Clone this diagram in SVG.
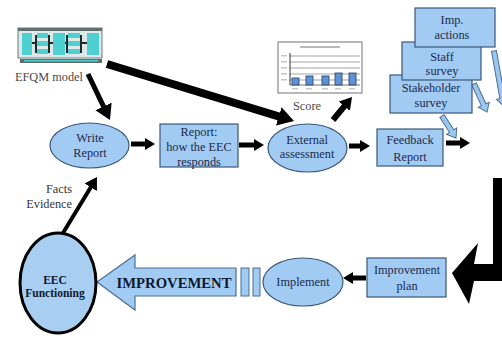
<svg xmlns="http://www.w3.org/2000/svg" width="502" height="338" viewBox="0 0 502 338" font-family="'Liberation Serif', 'Times New Roman', serif">
  <style>
    .bx { fill:#a1cbf3; stroke:#3b5878; stroke-width:1.2; }
    text { font-family:'Liberation Serif', 'Times New Roman', serif; }
    .t { font-size:12.3px; fill:#1c2a4a; text-anchor:middle; }
    .g { fill:#4a4a4a; }
    .k { stroke:#000; fill:none; stroke-linecap:butt; }
    .ba { fill:#9cc8f0; stroke:#4b6f96; stroke-width:1; }
    .bold { font-weight:bold; fill:#10182e; }
    .big { font-size:14.7px; }
    .sm { font-size:11.5px; }
    .lbl { text-anchor:end; fill:#333; }
  </style>
  <defs>
    <marker id="ah" viewBox="0 0 10 12" refX="2" refY="6" markerWidth="2" markerHeight="2.4" orient="auto" markerUnits="strokeWidth">
      <path d="M0,0 L10,6 L0,12 Z" fill="#000"/>
    </marker>
    <marker id="ahL" viewBox="0 0 10 12" refX="2" refY="6" markerWidth="3" markerHeight="3.6" orient="auto" markerUnits="strokeWidth">
      <path d="M0,0 L10,6 L0,12 Z" fill="#000"/>
    </marker>
  </defs>
  <rect width="502" height="338" fill="#fff"/>

  <!-- EFQM model picture -->
  <g id="efqm">
    <rect x="18" y="28" width="84" height="30" fill="#dfe8e8" stroke="#6d7b7b" stroke-width="1"/>
    <rect x="18" y="28" width="84" height="3" fill="#5f6d6d"/>
    <rect x="22" y="33" width="10" height="22" fill="#4fd0d0"/>
    <rect x="37" y="33" width="11" height="5" fill="#4fd0d0"/>
    <rect x="37" y="41" width="11" height="5" fill="#4fd0d0"/>
    <rect x="37" y="49" width="11" height="5" fill="#4fd0d0"/>
    <rect x="53" y="33" width="12" height="22" fill="#4fd0d0"/>
    <rect x="68" y="33" width="12" height="5" fill="#4fd0d0"/>
    <rect x="68" y="41" width="12" height="5" fill="#4fd0d0"/>
    <rect x="68" y="49" width="12" height="5" fill="#4fd0d0"/>
    <rect x="87" y="33" width="12" height="22" fill="#4fd0d0"/>
    <g fill="#1e2a2a">
      <rect x="32" y="42" width="5" height="2"/>
      <rect x="48" y="42" width="5" height="2"/>
      <rect x="65" y="42" width="3" height="2"/>
      <rect x="80" y="42" width="7" height="2"/>
      <rect x="35" y="35" width="2" height="18"/>
      <rect x="48" y="35" width="2" height="18"/>
      <rect x="66" y="35" width="2" height="18"/>
      <rect x="80" y="35" width="2" height="18"/>
    </g>
    <rect x="20" y="59" width="82" height="4" fill="#5f6d6d"/>
    <rect x="24" y="60" width="74" height="1.5" fill="#4fd0d0"/>
    <text class="t g" x="49" y="81">EFQM model</text>
  </g>

  <!-- Score chart -->
  <g id="score">
    <rect x="278" y="42" width="84" height="51" fill="#fff" stroke="#8a8a8a" stroke-width="1.2"/>
    <rect x="300" y="46" width="40" height="2" fill="#b8b8b8"/>
    <g stroke="#9a9a9a" stroke-width="0.9">
      <line x1="289" y1="56" x2="360" y2="56"/>
      <line x1="289" y1="62" x2="360" y2="62"/>
      <line x1="289" y1="68" x2="360" y2="68"/>
      <line x1="289" y1="74" x2="360" y2="74"/>
      <line x1="289" y1="80" x2="360" y2="80"/>
    </g>
    <line x1="290" y1="53" x2="290" y2="85" stroke="#555" stroke-width="1.2"/>
    <line x1="290" y1="85" x2="360" y2="85" stroke="#777" stroke-width="1"/>
    <g fill="#c8c8c8">
      <rect x="281" y="55" width="6" height="1.5"/>
      <rect x="281" y="61" width="6" height="1.5"/>
      <rect x="281" y="67" width="6" height="1.5"/>
      <rect x="281" y="73" width="6" height="1.5"/>
      <rect x="281" y="79" width="6" height="1.5"/>
      <rect x="292" y="88" width="6" height="1.5"/>
      <rect x="306" y="88" width="6" height="1.5"/>
      <rect x="322" y="88" width="6" height="1.5"/>
      <rect x="335" y="88" width="6" height="1.5"/>
      <rect x="349" y="88" width="6" height="1.5"/>
    </g>
    <g fill="#5f93d8" stroke="#243c63" stroke-width="0.8">
      <rect x="292" y="78" width="7" height="7"/>
      <rect x="306" y="76" width="7" height="9"/>
      <rect x="322" y="76" width="7" height="9"/>
      <rect x="335" y="73" width="7" height="12"/>
      <rect x="349" y="73" width="7" height="12"/>
    </g>
    <text class="t g" x="307" y="110">Score</text>
  </g>

  <!-- Connectors -->
  <g id="connectors">
    <line class="k" x1="107" y1="64" x2="281.8" y2="117.3" stroke-width="8" marker-end="url(#ah)"/>
    <line class="k" x1="88" y1="74" x2="104.8" y2="109.2" stroke-width="5" marker-end="url(#ahL)"/>
    <line class="k" x1="131" y1="144" x2="147" y2="144" stroke-width="5" marker-end="url(#ah)"/>
    <line class="k" x1="239" y1="145" x2="256" y2="145" stroke-width="5" marker-end="url(#ah)"/>
    <line class="k" x1="349" y1="146" x2="362" y2="146" stroke-width="5" marker-end="url(#ah)"/>
    <line class="k" x1="446" y1="143" x2="462" y2="143" stroke-width="5" marker-end="url(#ah)"/>
    <line class="k" x1="333" y1="120" x2="345.9" y2="104.4" stroke-width="6" marker-end="url(#ah)"/>
    <line class="k" x1="63" y1="233" x2="92" y2="185.2" stroke-width="4" marker-end="url(#ahL)"/>
    <line class="k" x1="366" y1="278" x2="351" y2="278" stroke-width="5" marker-end="url(#ah)"/>

    <!-- loop back from the surveys to the improvement plan -->
    <path d="M493,178 H504 V281 H474 L469,304 L452,273 L478,243 L474,264 H493 Z" fill="#000"/>

    <!-- survey outputs -->
    <path class="ba" transform="translate(442,116) rotate(57.5)" d="M0,-2.5 H18 V-6 L26,0 L18,6 V2.5 H0 Z"/>
    <path class="ba" transform="translate(474,84) rotate(65)" d="M0,-2.5 H23 V-6 L31,0 L23,6 V2.5 H0 Z"/>
    <path class="ba" transform="translate(494,51) rotate(80)" d="M0,-2.5 H48 V-6 L56,0 L48,6 V2.5 H0 Z"/>

    <!-- improvement arrow -->
    <path d="M236,268 H135 V255 L97,282 L135,310 V296 H236 Z" fill="#a1cbf3" stroke="#4b6f96" stroke-width="1.2"/>
    <rect x="241" y="268" width="8" height="28" fill="#a1cbf3" stroke="#4b6f96" stroke-width="1"/>
    <rect x="253" y="268" width="7" height="28" fill="#a1cbf3" stroke="#4b6f96" stroke-width="1"/>
    <text class="t bold big" x="174" y="288">IMPROVEMENT</text>

    <text class="t lbl" x="72" y="193">Facts</text>
    <text class="t lbl" x="72" y="208">Evidence</text>
  </g>

  <!-- Nodes -->
  <g id="write-report">
    <ellipse class="bx" cx="89.5" cy="145.5" rx="39.5" ry="22.5"/>
    <text class="t" x="90" y="142">Write</text>
    <text class="t" x="90" y="157">Report</text>
  </g>

  <g id="report-box">
    <rect class="bx" x="160" y="124" width="78" height="43"/>
    <text class="t" x="199" y="136">Report:</text>
    <text class="t" x="199" y="151">how the EEC</text>
    <text class="t" x="199" y="166">responds</text>
  </g>

  <g id="external-assessment">
    <ellipse class="bx" cx="307.5" cy="148" rx="39.5" ry="24"/>
    <text class="t" x="307" y="144">External</text>
    <text class="t" x="307" y="158">assessment</text>
  </g>

  <g id="feedback-report">
    <rect class="bx" x="377" y="129" width="66" height="37"/>
    <text class="t" x="410" y="144">Feedback</text>
    <text class="t" x="410" y="161">Report</text>
  </g>

  <g id="stakeholder-survey">
    <rect class="bx" x="390" y="75" width="82" height="38"/>
    <text class="t" x="431" y="92">Stakeholder</text>
    <text class="t" x="431" y="107">survey</text>
  </g>

  <g id="staff-survey">
    <rect class="bx" x="402" y="42" width="79" height="38"/>
    <text class="t" x="442" y="61">Staff</text>
    <text class="t" x="442" y="75">survey</text>
  </g>

  <g id="imp-actions">
    <rect class="bx" x="415" y="8" width="80" height="39"/>
    <text class="t" x="452" y="24">Imp.</text>
    <text class="t" x="452" y="39">actions</text>
  </g>

  <g id="improvement-plan">
    <rect class="bx" x="367" y="258" width="79" height="39"/>
    <text class="t" x="407" y="274">Improvement</text>
    <text class="t" x="407" y="290">plan</text>
  </g>

  <g id="implement">
    <ellipse class="bx" cx="303" cy="282" rx="40" ry="24"/>
    <text class="t" x="303" y="286">Implement</text>
  </g>

  <g id="eec-functioning">
    <ellipse cx="58" cy="283" rx="38" ry="50" fill="#a8cff2" stroke="#000" stroke-width="3"/>
    <text class="t bold sm" x="55" y="284">EEC</text>
    <text class="t bold sm" x="55" y="297">Functioning</text>
  </g>
</svg>
